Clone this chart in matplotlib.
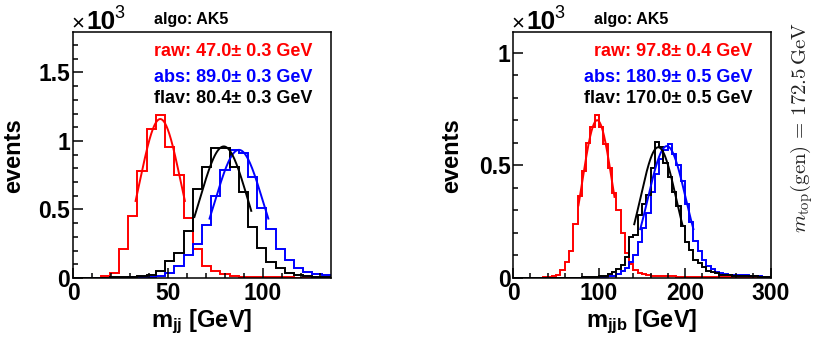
import numpy as np
import matplotlib
matplotlib.use('Agg')
import matplotlib.pyplot as plt
from matplotlib.ticker import MultipleLocator, FuncFormatter

plt.rcParams['font.family'] = ['Liberation Sans', 'DejaVu Sans']
plt.rcParams['mathtext.fontset'] = 'custom'
plt.rcParams['mathtext.rm'] = 'Liberation Sans'
plt.rcParams['mathtext.bf'] = 'Liberation Sans:bold'
plt.rcParams['mathtext.it'] = 'Liberation Sans:italic'

# ---- data (events in units of 10^3) ----
# left: m_jj, 28 bins from 0 to 136 GeV
mjj_range = (0, 136)
mjj_raw = [0, 0, 0.003, 0.015, 0.034, 0.214, 0.45, 0.78, 1.085, 1.19,
           0.954, 0.75, 0.435, 0.21, 0.085, 0.048, 0.03, 0.017, 0.01, 0.01,
           0.006, 0.005, 0.004, 0.004, 0.003, 0.003, 0.002, 0.002]
mjj_abs = [0, 0, 0, 0, 0.002, 0.003, 0.004, 0.005, 0.01, 0.017,
           0.034, 0.09, 0.165, 0.245, 0.39, 0.6, 0.785, 0.935, 0.915, 0.74,
           0.51, 0.36, 0.21, 0.13, 0.075, 0.046, 0.032, 0.02]
mjj_flav = [0, 0, 0, 0.002, 0.004, 0.005, 0.008, 0.012, 0.02, 0.05,
            0.125, 0.185, 0.345, 0.65, 0.81, 0.945, 0.945, 0.81, 0.63, 0.375,
            0.217, 0.12, 0.07, 0.04, 0.022, 0.015, 0.01, 0.008]

# right: m_jjb, 60 bins from 0 to 300 GeV
mjjb_range = (0, 300)
mjjb_raw = [0, 0, 0, 0, 0, 0.001, 0.002, 0.003, 0.005, 0.007,
            0.012, 0.035, 0.07, 0.12, 0.24, 0.365, 0.475, 0.6, 0.67, 0.725,
            0.67, 0.595, 0.49, 0.375, 0.3, 0.2, 0.11, 0.062, 0.036, 0.022,
            0.016, 0.012, 0.01, 0.009, 0.008, 0.008, 0.007, 0.007, 0.006, 0.006,
            0.006, 0.005, 0.005, 0.005, 0.004, 0.004, 0.004, 0.003, 0.003, 0.003,
            0.003, 0.002, 0.002, 0.002, 0.002, 0.002, 0.001, 0.001, 0.001, 0.001]
mjjb_abs = [0, 0, 0, 0, 0, 0, 0, 0, 0, 0,
            0, 0, 0, 0, 0.001, 0.001, 0.001, 0.002, 0.002, 0.002,
            0.003, 0.005, 0.007, 0.01, 0.018, 0.03, 0.045, 0.07, 0.1, 0.16,
            0.22, 0.29, 0.38, 0.46, 0.53, 0.57, 0.595, 0.55, 0.5, 0.43,
            0.33, 0.25, 0.165, 0.12, 0.08, 0.055, 0.04, 0.028, 0.02, 0.016,
            0.015, 0.014, 0.014, 0.013, 0.012, 0.01, 0.008, 0.007, 0.006, 0.005]
mjjb_flav = [0, 0, 0, 0, 0, 0, 0, 0, 0, 0,
             0, 0.001, 0.001, 0.001, 0.002, 0.002, 0.003, 0.003, 0.004, 0.005,
             0.007, 0.01, 0.018, 0.028, 0.038, 0.058, 0.095, 0.18, 0.19, 0.28,
             0.33, 0.37, 0.49, 0.605, 0.58, 0.51, 0.45, 0.38, 0.32, 0.23,
             0.16, 0.125, 0.08, 0.065, 0.05, 0.033, 0.028, 0.02, 0.015, 0.013,
             0.012, 0.01, 0.01, 0.008, 0.008, 0.01, 0.007, 0.006, 0.005, 0.005]

# gaussian fits: (amplitude, mean, sigma, fit from, fit to)
mjj_fits = [(1.16, 46.0, 10.8, 33, 59),
            (0.935, 87.5, 12.5, 72, 103),
            (0.96, 79.5, 12.5, 64, 94)]
mjjb_fits = [(0.70, 97.8, 17.5, 76, 118),
             (0.585, 179.0, 22.0, 148, 210),
             (0.58, 169.0, 21.0, 141, 197)]

labels_mjj = ['raw: 47.0\u00b1 0.3 GeV', 'abs: 89.0\u00b1 0.3 GeV', 'flav: 80.4\u00b1 0.3 GeV']
labels_mjjb = ['raw: 97.8\u00b1 0.4 GeV', 'abs: 180.9\u00b1 0.5 GeV', 'flav: 170.0\u00b1 0.5 GeV']
colors = ['#ff0000', '#0000ff', '#000000']


def draw_panel(ax, xrange, hists, fits, labels, ymax, xmaj, xmin, xlabel, ylab_x):
    edges = np.linspace(xrange[0], xrange[1], len(hists[0]) + 1)
    for vals, col in zip(hists, colors):
        ax.stairs(vals, edges, color=col, lw=1.4, baseline=None)
    for (amp, mu, sig, lo, hi), col in zip(fits, colors):
        xx = np.linspace(lo, hi, 200)
        ax.plot(xx, amp * np.exp(-0.5 * ((xx - mu) / sig) ** 2), color=col, lw=1.4)

    ax.set_xlim(xrange)
    ax.set_ylim(0, ymax)
    ax.xaxis.set_major_locator(MultipleLocator(xmaj))
    ax.xaxis.set_minor_locator(MultipleLocator(xmin))
    ax.yaxis.set_major_locator(MultipleLocator(0.5))
    ax.yaxis.set_minor_locator(MultipleLocator(0.1))
    ax.yaxis.set_major_formatter(FuncFormatter(lambda v, p: '%g' % v))
    ax.tick_params(which='both', direction='in', top=False, right=False,
                   width=1.1, labelsize=16.5)
    ax.tick_params(which='major', length=7)
    ax.tick_params(which='minor', length=3.5)
    ax.tick_params(axis='y', pad=2)
    ax.tick_params(axis='x', pad=3)
    for lab in ax.get_xticklabels() + ax.get_yticklabels():
        lab.set_fontweight('bold')
    for sp in ax.spines.values():
        sp.set_linewidth(1.1)

    ax.set_xlabel(xlabel, fontsize=17, fontweight='bold')
    ax.xaxis.set_label_coords(0.5, -0.12)
    ax.set_ylabel('events', fontsize=17, fontweight='bold')
    ax.yaxis.set_label_coords(ylab_x, 0.5)

    ys = [0.92, 0.818, 0.729]
    for txt, col, y in zip(labels, colors, ys):
        ax.text(0.93, y, txt, color=col, fontsize=13, fontweight='bold',
                ha='right', va='center', transform=ax.transAxes)
    ax.text(0.46, 1.054, 'algo: AK5', fontsize=11.5, fontweight='bold',
            ha='center', va='center', transform=ax.transAxes)
    # x10^3 exponent marker
    ax.text(-0.008, 1.012, '\u00d7', fontsize=16, ha='left', va='baseline',
            transform=ax.transAxes)
    ax.text(0.052, 1.012, '10', fontsize=19, fontweight='bold', ha='left',
            va='baseline', transform=ax.transAxes)
    ax.text(0.16, 1.058, '3', fontsize=13, ha='left', va='baseline',
            transform=ax.transAxes)


fig = plt.figure(figsize=(8.16, 3.4), dpi=100)
ax1 = fig.add_axes([0.0895, 0.1824, 0.316, 0.7226])
ax2 = fig.add_axes([0.629, 0.1824, 0.3154, 0.7226])

draw_panel(ax1, mjj_range, [mjj_raw, mjj_abs, mjj_flav], mjj_fits, labels_mjj,
           1.793, 50, 10, r'm$_{\mathbf{jj}}$ [GeV]', -0.186)
draw_panel(ax2, mjjb_range, [mjjb_raw, mjjb_abs, mjjb_flav], mjjb_fits, labels_mjjb,
           1.09, 100, 20, r'm$_{\mathbf{jjb}}$ [GeV]', -0.195)

fig.text(0.983, 0.624, r'$m_{\rm top}({\rm gen})\,=\,172.5\,{\rm GeV}$',
         rotation=90, ha='center', va='center', fontsize=15,
         color='#222222', math_fontfamily='cm')

fig.savefig('out.png', dpi=100)
